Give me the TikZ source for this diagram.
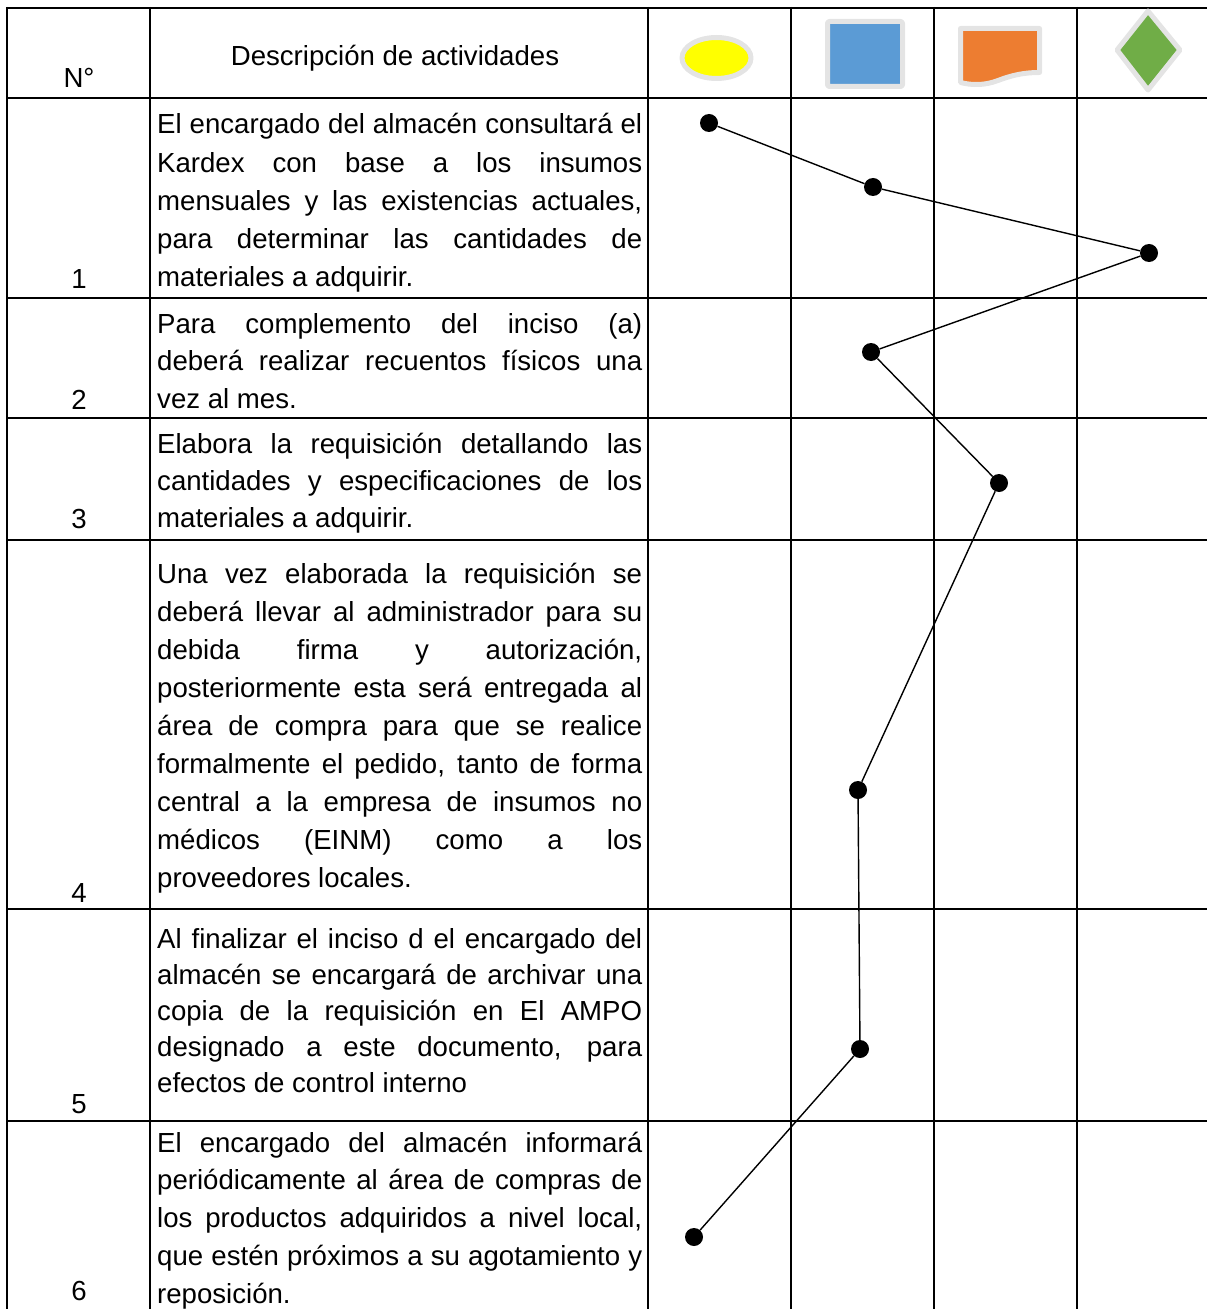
\documentclass[tikz,border=0pt]{standalone}
\usepackage{fontspec}
\setmainfont{Liberation Sans}
\definecolor{shgray}{HTML}{E4E4E4}
\definecolor{shyellow}{HTML}{FFFF00}
\definecolor{shblue}{HTML}{5B9BD5}
\definecolor{shorange}{HTML}{ED7D31}
\definecolor{shgreen}{HTML}{70AD47}
\newcommand\jl[1]{\makebox[\linewidth][s]{#1}\\}
\newcommand\rowtext[2]{\parbox[t]{485bp}{\fontsize{27.6bp}{#1bp}\selectfont #2}}
\begin{document}
\begin{tikzpicture}[x=1bp,y=-1bp,
  gridline/.style={line width=2bp, black},
  dot/.style={circle, fill=black, inner sep=0pt, minimum size=18bp},
  conn/.style={line width=1.4bp, black},
  txt/.style={anchor=base west, inner sep=0pt},
  num/.style={anchor=base, inner sep=0pt, font=\fontsize{27.6bp}{33bp}\selectfont},
  pict/.style={draw=shgray, line width=5bp, line join=round}]
\useasboundingbox (0,0) rectangle (1207,1309);
% grid
\foreach \x in {7,150,648,791,934,1077} \draw[gridline] (\x,7) -- (\x,1309);
\foreach \y in {8,98,298,418,540,909,1121} \draw[gridline] (6,\y) -- (1207,\y);
% header
\node[num] (hn) at (79,88) {N°};
\node[num] (hd) at (395,66) {Descripción de actividades};
\draw[pict, fill=shyellow] (716.5,58) ellipse [x radius=34.5, y radius=20.5];
\draw[pict, fill=shblue, rounded corners=2bp] (827.5,21.5) rectangle (902.5,86.5);
\draw[pict, fill=shorange] (960.5,28.5) -- (1039.5,28.5) -- (1039.5,72.5)
  .. controls (1022,72.5) and (1010,76) .. (998,80.5)
  .. controls (985,85.5) and (972,85.5) .. (960.5,82.5) -- cycle;
\draw[pict, fill=shgreen] (1148,11) -- (1180,50) -- (1148,90) -- (1117,50) -- cycle;
% numbers
\node[num] (n1) at (79,289) {1};
\node[num] (n2) at (79,409) {2};
\node[num] (n3) at (79,528) {3};
\node[num] (n4) at (79,902) {4};
\node[num] (n5) at (79,1113) {5};
\node[num] (n6) at (79,1300) {6};
% descriptions
\node[txt] (r1) at (157,134) {\rowtext{38.25}{%
\jl{El encargado del almacén consultará el}
\jl{Kardex con base a los insumos}
\jl{mensuales y las existencias actuales,}
\jl{para determinar las cantidades de}
materiales a adquirir.}};
\node[txt] (r2) at (157,333) {\rowtext{37.5}{%
\jl{Para complemento del inciso (a)}
\jl{deberá realizar recuentos físicos una}
vez al mes.}};
\node[txt] (r3) at (157,453) {\rowtext{37}{%
\jl{Elabora la requisición detallando las}
\jl{cantidades y especificaciones de los}
materiales a adquirir.}};
\node[txt] (r4) at (157,583) {\rowtext{38}{%
\jl{Una vez elaborada la requisición se}
\jl{deberá llevar al administrador para su}
\jl{debida firma y autorización,}
\jl{posteriormente esta será entregada al}
\jl{área de compra para que se realice}
\jl{formalmente el pedido, tanto de forma}
\jl{central a la empresa de insumos no}
\jl{médicos (EINM) como a los}
proveedores locales.}};
\node[txt] (r5) at (157,948) {\rowtext{36}{%
\jl{Al finalizar el inciso d el encargado del}
\jl{almacén se encargará de archivar una}
\jl{copia de la requisición en El AMPO}
\jl{designado a este documento, para}
efectos de control interno}};
\node[txt] (r6) at (157,1152) {\rowtext{37.75}{%
\jl{El encargado del almacén informará}
\jl{periódicamente al área de compras de}
\jl{los productos adquiridos a nivel local,}
\jl{que estén próximos a su agotamiento y}
reposición.}};
% flow dots
\node[dot] (d1) at (709,123) {};
\node[dot] (d2) at (873,187) {};
\node[dot] (d3) at (1149,253) {};
\node[dot] (d4) at (871,352) {};
\node[dot] (d5) at (999,483) {};
\node[dot] (d6) at (858,790) {};
\node[dot] (d7) at (860,1049) {};
\node[dot] (d8) at (694,1237) {};
\draw[conn] (d1) -- (d2) -- (d3) -- (d4) -- (d5) -- (d6) -- (d7) -- (d8);
\end{tikzpicture}
\end{document}
